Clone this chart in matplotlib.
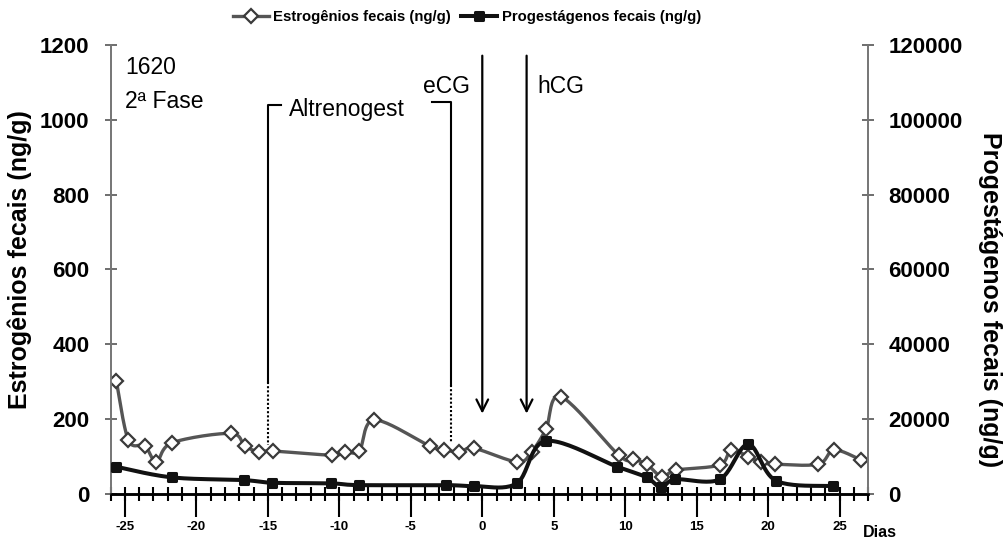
import numpy as np
import matplotlib
matplotlib.use("Agg")
import matplotlib.pyplot as plt
from matplotlib.lines import Line2D
from matplotlib.markers import MarkerStyle
from matplotlib.ticker import MultipleLocator

plt.rcParams['font.family'] = ['Liberation Sans', 'DejaVu Sans']
plt.rcParams['axes.unicode_minus'] = False

# estrogênios fecais (eixo esquerdo, ng/g)
est_dias = [-25.6, -24.75, -23.6, -22.8, -21.7, -17.6, -16.6, -15.6, -14.65,
            -10.5, -9.6, -8.6, -7.55, -3.65, -2.65, -1.6, -0.55, 2.45, 3.45,
            4.45, 5.5, 9.55, 10.55, 11.5, 12.55, 13.55, 16.6, 17.4, 18.6,
            19.5, 20.45, 23.5, 24.6, 26.5]
est_vals = [303, 144, 129, 86, 137, 162, 128, 113, 115,
            104, 113, 116, 198, 128, 118, 113, 122, 86, 113,
            173, 260, 104, 93, 80, 46, 64, 78, 118, 100,
            85, 80, 80, 118, 91]

# progestágenos fecais (eixo direito, ng/g)
prog_dias = [-25.6, -21.7, -16.7, -14.7, -10.55, -8.6, -2.55, -0.6, 2.4,
             4.45, 9.45, 11.5, 12.5, 13.5, 16.6, 18.6, 20.55, 24.55]
prog_vals = [7300, 4460, 3740, 3030, 2850, 2400, 2400, 2140, 2850,
             14170, 7300, 4460, 1780, 3930, 3930, 13290, 3560, 2140]

cor_est = '#555555'
cor_prog = '#111111'


def suavizar(x, y, n=24):
    # curva suavizada (bezier tipo catmull-rom) passando pelos pontos
    pts = np.column_stack([x, y]).astype(float)
    P = np.vstack([pts[0], pts, pts[-1]])
    t = np.linspace(0, 1, n)[:, None]
    partes = []
    for i in range(len(pts) - 1):
        p0, p1, p2, p3 = P[i], P[i + 1], P[i + 2], P[i + 3]
        c1 = p1 + (p2 - p0) / 6
        c2 = p2 - (p3 - p1) / 6
        seg = (1 - t)**3 * p1 + 3 * (1 - t)**2 * t * c1 + 3 * (1 - t) * t**2 * c2 + t**3 * p2
        partes.append(seg if i == 0 else seg[1:])
    s = np.vstack(partes)
    return s[:, 0], s[:, 1]


fig = plt.figure(figsize=(10.05, 5.4), dpi=100)
ax = fig.add_axes([0.110, 0.085, 0.754, 0.832])
ax2 = ax.twinx()

ax.set_xlim(-26, 27)
ax.set_ylim(0, 1200)
ax2.set_ylim(0, 120000)

# estrogênios
xs, ys = suavizar(est_dias, est_vals)
ax.plot(xs, ys, color=cor_est, lw=2.4, solid_capstyle='round', zorder=3)
ax.plot(est_dias, est_vals, ls='none', marker='D', ms=7.5, mfc='white',
        mec='#3a3a3a', mew=1.6, zorder=4)

# progestágenos
xs, ys = suavizar(prog_dias, prog_vals)
ax2.plot(xs, ys, color=cor_prog, lw=2.9, solid_capstyle='round', zorder=3)
quad = MarkerStyle('s', joinstyle='round')
ax2.plot(prog_dias, prog_vals, ls='none', marker=quad, ms=5.5, mfc=cor_prog,
         mec=cor_prog, mew=2.2, zorder=4)

# eixos
for a in (ax, ax2):
    a.spines['top'].set_visible(False)
    a.spines['left'].set_color('#777777')
    a.spines['right'].set_color('#777777')
    a.spines['left'].set_linewidth(1.3)
    a.spines['right'].set_linewidth(1.3)
    a.spines['bottom'].set_color('black')
    a.spines['bottom'].set_linewidth(1.8)

ax.yaxis.set_major_locator(MultipleLocator(200))
ax2.yaxis.set_major_locator(MultipleLocator(20000))
ax.tick_params(axis='y', direction='inout', length=8.6, width=1.2, color='#555555',
               pad=11, labelsize=16)
ax2.tick_params(axis='y', direction='inout', length=8.6, width=1.2, color='#555555',
                pad=10, labelsize=16)
for lab in ax.get_yticklabels() + ax2.get_yticklabels():
    lab.set_fontweight('bold')

ax.xaxis.set_major_locator(MultipleLocator(5))
ax.xaxis.set_minor_locator(MultipleLocator(1))
ax.xaxis.remove_overlapping_locs = False
ax.tick_params(axis='x', which='major', direction='out', length=16.5, width=1.5,
               color='black', pad=3, labelsize=9.5)
ax.tick_params(axis='x', which='minor', direction='inout', length=10, width=1.5,
               color='black')
for lab in ax.get_xticklabels():
    lab.set_fontweight('bold')

ax.set_ylabel('Estrogênios fecais (ng/g)', fontsize=18, fontweight='bold',
              va='center', ha='center')
ax.yaxis.set_label_coords(-0.12, 0.521)
ax2.set_ylabel('Progestágenos fecais (ng/g)', fontsize=18, fontweight='bold',
               rotation=-90, va='center', ha='center')
ax2.yaxis.set_label_coords(1.161, 0.432)

ax.text(0.993, -0.085, 'Dias', transform=ax.transAxes, fontsize=11.5,
        fontweight='bold', ha='left', va='center')

# anotações: tratamento com altrenogest, eCG e hCG
ax.plot([-14.05, -15, -15], [1040, 1040, 300], color='black', lw=1.5, zorder=2)
ax.plot([-15, -15], [300, 131], color='black', lw=1.5, ls=(0, (1, 1)), zorder=2)
ax.plot([-3.5, -2.2, -2.2], [1048, 1048, 291], color='black', lw=1.5, zorder=2)
ax.plot([-2.2, -2.2], [291, 136], color='black', lw=1.5, ls=(0, (1, 1)), zorder=2)

for xd in (0, 3.1):
    ax.annotate('', xy=(xd, 215), xytext=(xd, 1171),
                arrowprops=dict(arrowstyle='->', lw=1.6, color='black',
                                mutation_scale=21, shrinkA=0, shrinkB=0))

ax.text(-25, 1140, '1620', fontsize=16.5, ha='left', va='center')
ax.text(-25, 1048, '2ª Fase', fontsize=16.5, ha='left', va='center')
ax.text(-13.5, 1027, 'Altrenogest', fontsize=16.5, ha='left', va='center')
ax.text(-4.15, 1088, 'eCG', fontsize=16.5, ha='left', va='center')
ax.text(3.85, 1088, 'hCG', fontsize=16.5, ha='left', va='center')

# legenda
h_est = Line2D([], [], color=cor_est, lw=2.4, marker='D', ms=7.5, mfc='white',
               mec='#3a3a3a', mew=1.6)
h_prog = Line2D([], [], color=cor_prog, lw=2.9, marker=quad, ms=5.5,
                mfc=cor_prog, mec=cor_prog, mew=2.2)
fig.legend([h_est, h_prog],
           ['Estrogênios fecais (ng/g)', 'Progestágenos fecais (ng/g)'],
           loc='center', bbox_to_anchor=(467 / 1005, 1 - 17 / 540), ncol=2,
           frameon=False, prop={'size': 10.7, 'weight': 'bold'},
           handlelength=2.4, handletextpad=0.3, columnspacing=0.7)

fig.savefig('out.png', dpi=100)
